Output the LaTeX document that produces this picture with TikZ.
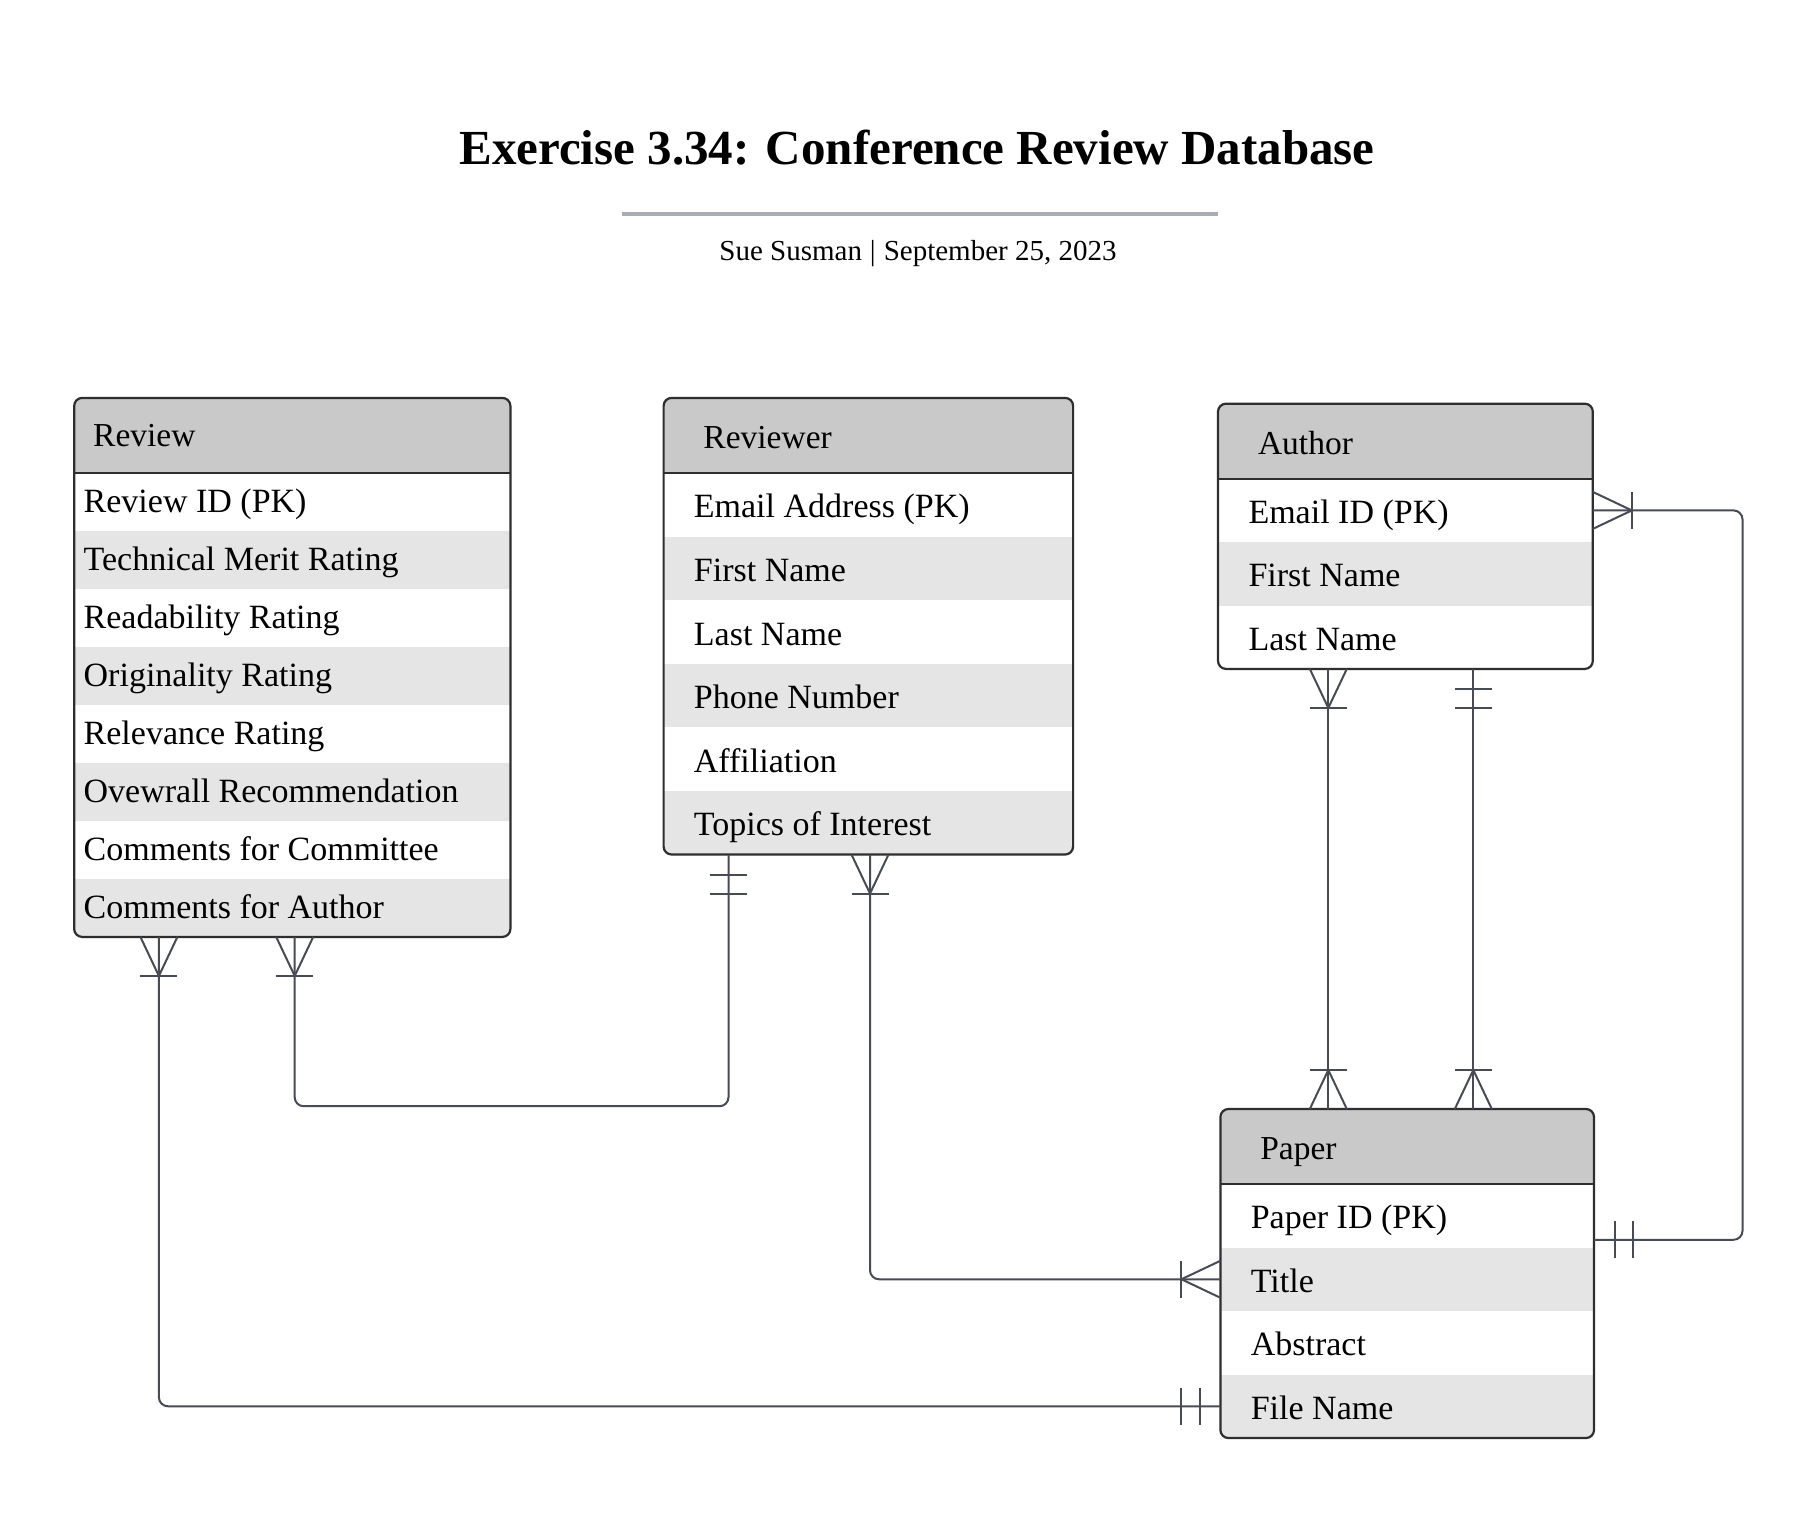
\documentclass[tikz,border=0pt]{standalone}
\usepackage{fontspec}
\setmainfont{Liberation Serif}
\usetikzlibrary{calc}
\definecolor{hdrgray}{HTML}{C9C9C9}
\definecolor{altgray}{HTML}{E5E5E5}
\definecolor{conncol}{HTML}{474B54}
\definecolor{framecol}{HTML}{2E2E2E}
\definecolor{rulecol}{HTML}{A8ADB4}
\tikzset{
  conn/.style={draw=conncol, line width=2pt},
  tableframe/.style={draw=framecol, line width=2.2pt, rounded corners=8pt, inner sep=0pt, outer sep=0pt, fill=none},
  hdrtext/.style={inner sep=0pt, font=\fontsize{33.5}{40}\selectfont},
  rowtext/.style={inner sep=0pt, font=\fontsize{34}{40}\selectfont},
  crowmany/.pic={\draw[conn] (0,18.5) -- (39,0) -- (0,-18.5); \draw[conn] (39,18.5) -- (39,-18.5);},
  crowone/.pic={\draw[conn] (20.5,18.5) -- (20.5,-18.5); \draw[conn] (39,18.5) -- (39,-18.5);}
}
% name, x, y, width, row height, nrows, title, rows, inset
\newcommand\ertable[9]{%
  \pgfmathsetmacro\tbot{#3+75+#5*#6}%
  \pgfmathsetmacro\thgt{75+#5*#6}%
  \pgfmathsetmacro\boff{#5*0.45-15.5}%
  \begin{scope}
    \clip[rounded corners=8pt] (#2,#3) rectangle ({#2+#4},\tbot);
    \fill[hdrgray] (#2,#3) rectangle ({#2+#4},{#3+75});
    \foreach \r [count=\i] in {#8} {
      \ifodd\i\else
        \fill[altgray] (#2,{#3+75+(\i-1)*#5}) rectangle ({#2+#4},{#3+75+\i*#5});
      \fi
    }
  \end{scope}
  \draw[framecol, line width=2pt] (#2,{#3+75}) -- ({#2+#4},{#3+75});
  \node[tableframe, minimum width=#4pt, minimum height=\thgt pt, anchor=north west] (#1) at (#2,#3) {};
  \node[hdrtext, anchor=base west] (#1-h) at ({#2+#9+9.5},{#3+37.5+\boff}) {#7};
  \foreach \r [count=\i] in {#8} {
    \node[rowtext, anchor=base west] (#1-\i) at ({#2+#9},{#3+75+(\i-0.5)*#5+\boff}) {\r};
    \coordinate (#1-\i-w) at (#2,{#3+75+(\i-0.5)*#5});
    \coordinate (#1-\i-e) at ({#2+#4},{#3+75+(\i-0.5)*#5});
  }
}
\begin{document}
\begin{tikzpicture}[x=1pt,y=-1pt]
\fill[white] (0,0) rectangle (1819,1513);
\useasboundingbox (0,0) rectangle (1819,1513);

\node[inner sep=0pt, anchor=base, font=\fontsize{49}{58}\bfseries\selectfont] (title) at (917,164) {Exercise 3.34: Conference Review Database};
\draw[rulecol, line width=4pt] (622,213.5) -- (1218,213.5);
\node[inner sep=0pt, anchor=base, font=\fontsize{29}{34}\selectfont] (subtitle) at (918,260) {Sue Susman\hspace{8pt}|\hspace{8pt}September 25, 2023};

\ertable{review}{74.2}{397.9}{436.2}{58}{8}{Review}{Review ID (PK),Technical Merit Rating,Readability Rating,Originality Rating,Relevance Rating,Ovewrall Recommendation,Comments for Committee,Comments for Author}{9.3}
\ertable{reviewer}{663.6}{397.9}{409.5}{63.6}{6}{Reviewer}{Email Address (PK),First Name,Last Name,Phone Number,Affiliation,Topics of Interest}{30.1}
\ertable{author}{1218}{403.7}{374.8}{63.4}{3}{Author}{Email ID (PK),First Name,Last Name}{30.3}
\ertable{paper}{1220.4}{1109}{373.6}{63.5}{4}{Paper}{Paper ID (PK),Title,Abstract,File Name}{30.2}

\coordinate (e1a) at ([xshift=84.7pt]review.south west);
\coordinate (e2a) at ([xshift=220.5pt]review.south west);
\coordinate (e2b) at ([xshift=64.9pt]reviewer.south west);
\coordinate (e3a) at ([xshift=206.4pt]reviewer.south west);
\coordinate (e4a) at ([xshift=110.3pt]author.south west);
\coordinate (e5a) at ([xshift=255.3pt]author.south west);
\coordinate (e4b) at (e4a |- paper.north);
\coordinate (e5b) at (e5a |- paper.north);
\coordinate (e6b) at ([yshift=-24pt]paper-1-e);

\draw[conn, rounded corners=9pt] (e1a) |- (paper-4-w);
\draw[conn, rounded corners=9pt] (e2a) -- ++(0,169.3) -| (e2b);
\draw[conn, rounded corners=9pt] (e3a) |- (paper-2-w);
\draw[conn] (e4a) -- (e4b);
\draw[conn] (e5a) -- (e5b);
\draw[conn, rounded corners=9pt] (author-1-e) -- ++(149.7,0) |- (e6b);

\pic[rotate=-90] at (e1a) {crowmany};
\pic[rotate=180] at (paper-4-w) {crowone};
\pic[rotate=-90] at (e2a) {crowmany};
\pic[rotate=-90] at (e2b) {crowone};
\pic[rotate=-90] at (e3a) {crowmany};
\pic[rotate=180] at (paper-2-w) {crowmany};
\pic[rotate=-90] at (e4a) {crowmany};
\pic[rotate=90] at (e4b) {crowmany};
\pic[rotate=-90] at (e5a) {crowone};
\pic[rotate=90] at (e5b) {crowmany};
\pic[rotate=0] at (author-1-e) {crowmany};
\pic[rotate=0] at (e6b) {crowone};
\end{tikzpicture}
\end{document}
